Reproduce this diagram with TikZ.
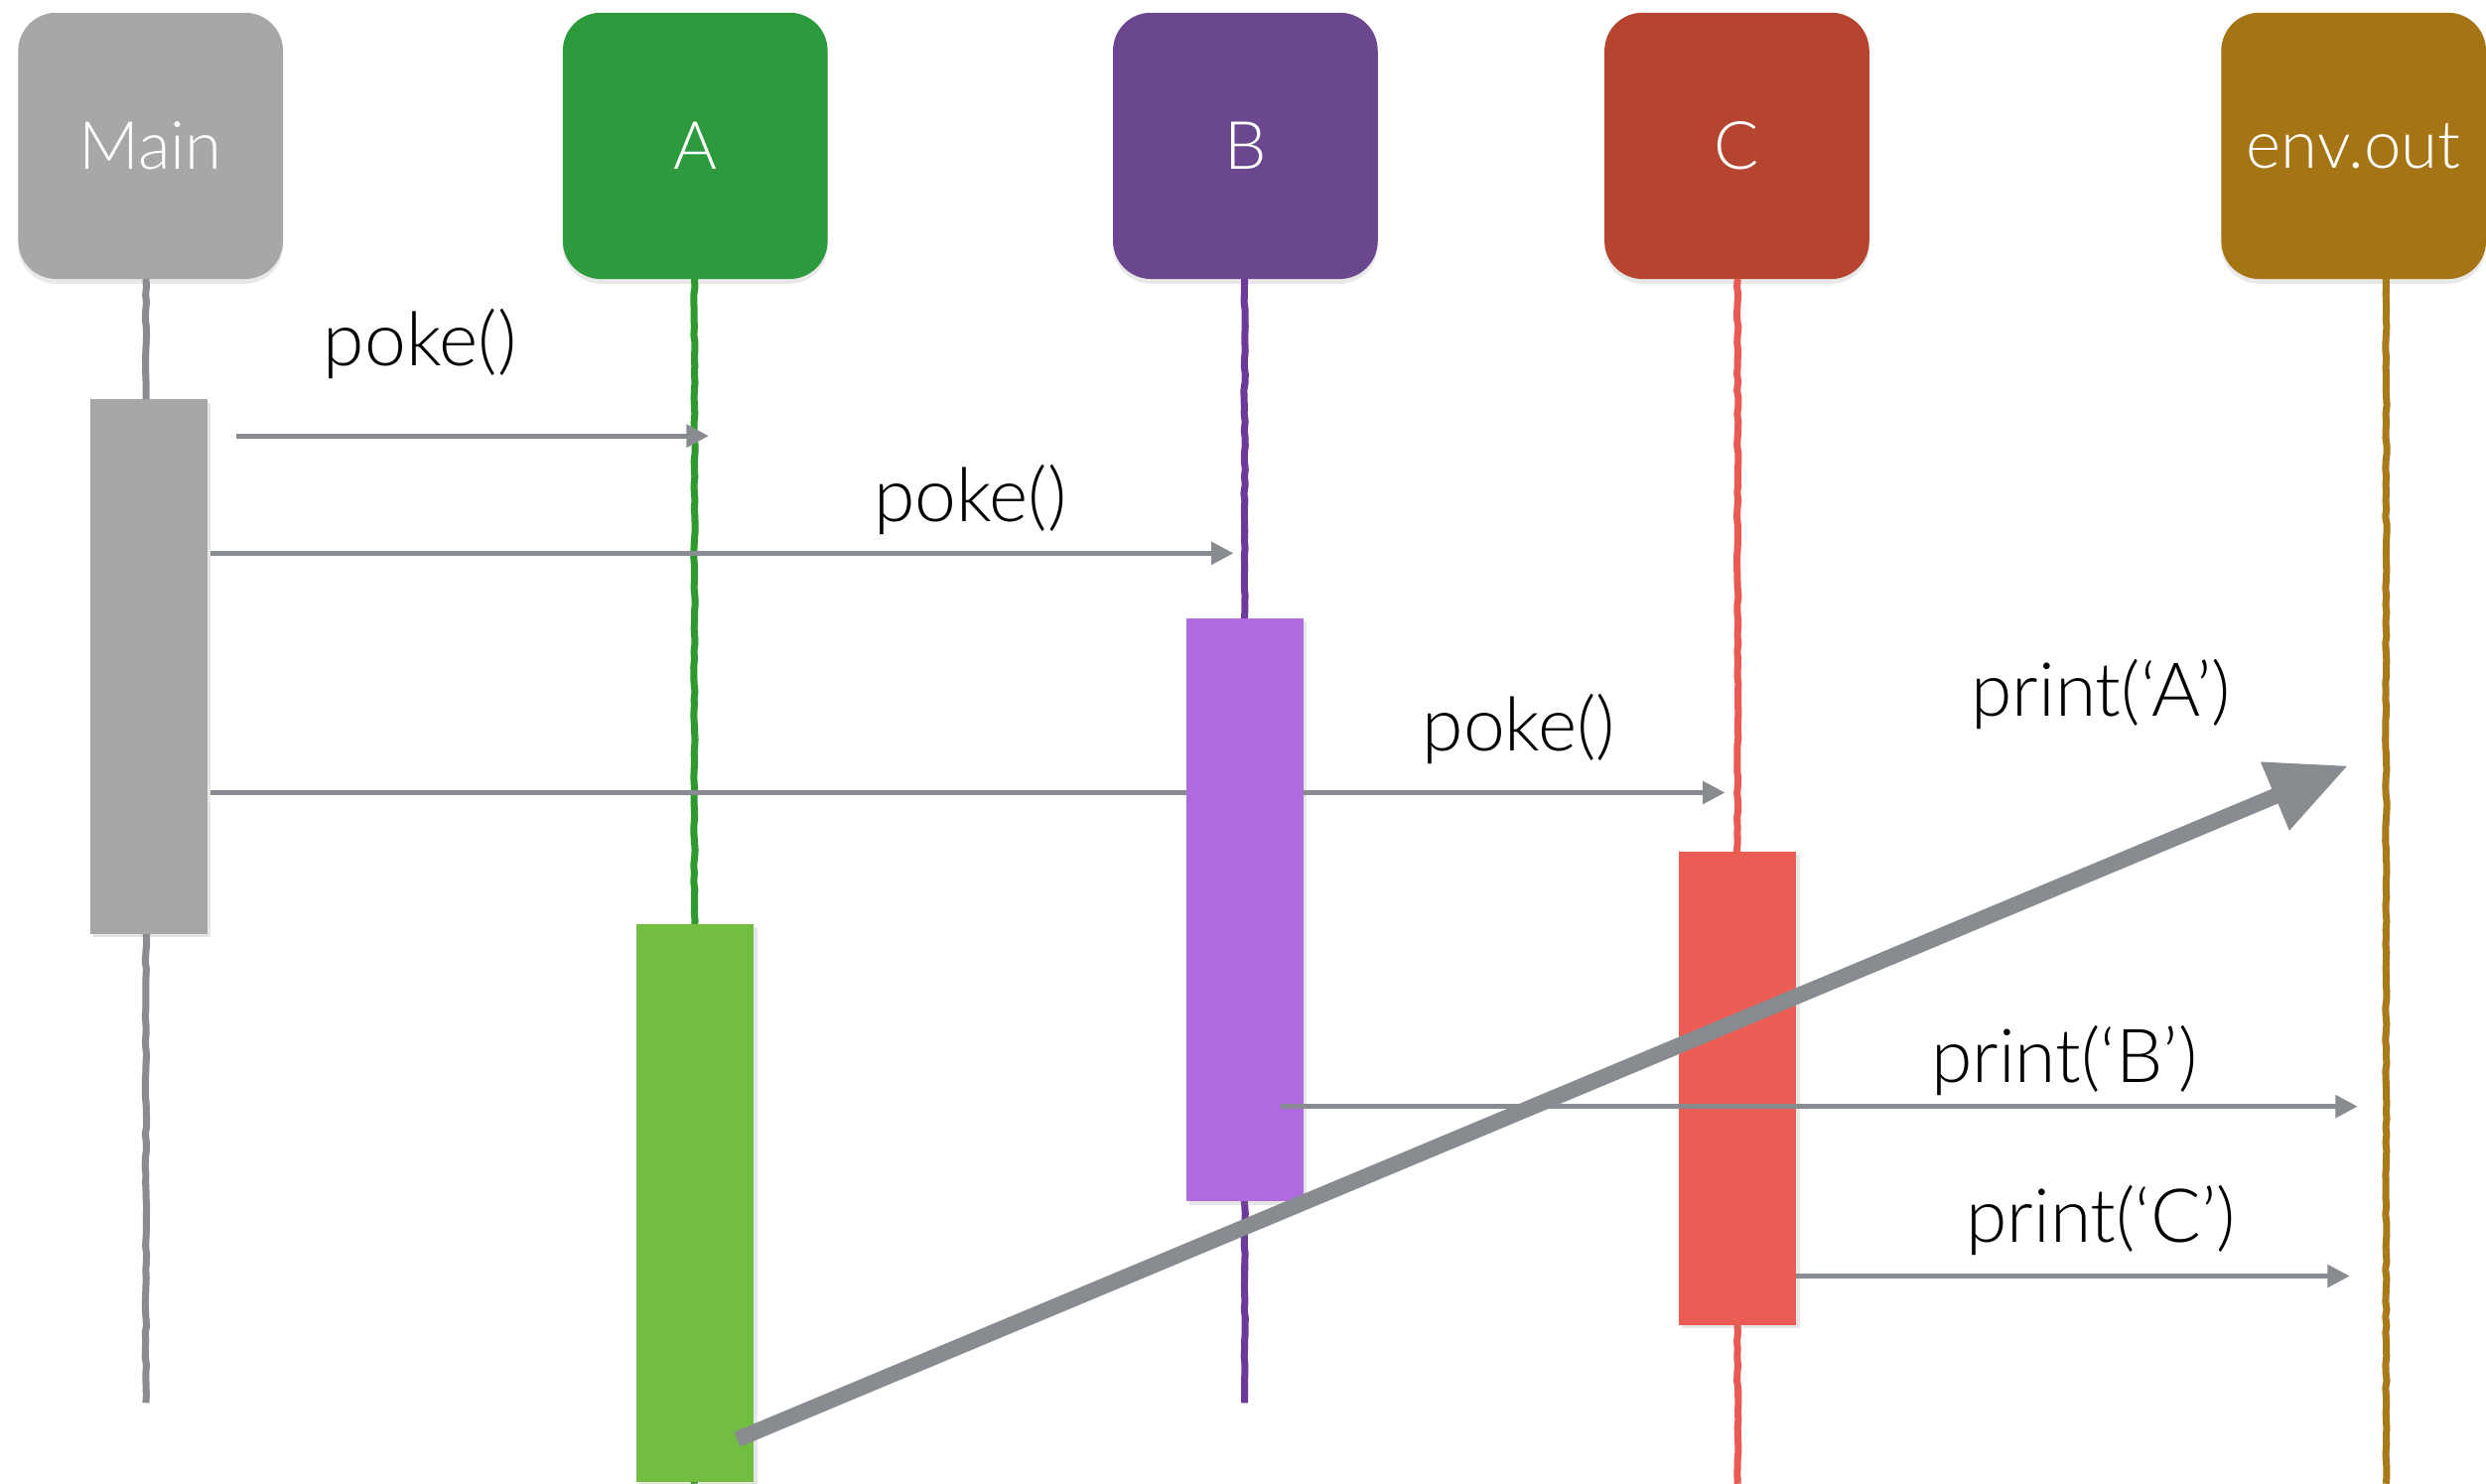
\documentclass[tikz,border=0pt]{standalone}
\usepackage{fontspec}
\setmainfont{Lato}[UprightFont=* Light]
\usetikzlibrary{arrows.meta,shadows,decorations.pathmorphing}

\definecolor{mainHead}{HTML}{A5A8A7}
\definecolor{mainLine}{HTML}{8A8C8F}
\definecolor{mainBar}{HTML}{A5A8A7}
\definecolor{aHead}{HTML}{2E9A3E}
\definecolor{aLine}{HTML}{2E9A2E}
\definecolor{aBar}{HTML}{71BE42}
\definecolor{bHead}{HTML}{6B4790}
\definecolor{bLine}{HTML}{6E3A99}
\definecolor{bBar}{HTML}{B06AE0}
\definecolor{cHead}{HTML}{B54430}
\definecolor{cLine}{HTML}{EA5A54}
\definecolor{cBar}{HTML}{EB5C55}
\definecolor{envHead}{HTML}{A57515}
\definecolor{envLine}{HTML}{A87A1A}
\definecolor{msg}{HTML}{888B8F}

\tikzset{
  head/.style={rounded corners=24pt, minimum width=167pt, minimum height=168pt,
    inner sep=0pt, outer sep=0pt, text=white,
    font=\fontsize{42}{50}\selectfont,
    drop shadow={shadow xshift=0pt, shadow yshift=-3pt, opacity=0.18}},
  lifeline/.style={line width=4.4pt, line join=round,
    decorate, decoration={random steps, segment length=5pt, amplitude=0.45pt}},
  actbar/.style={minimum width=74pt, inner sep=0pt, outer sep=0pt,
    drop shadow={shadow xshift=2pt, shadow yshift=-2pt, opacity=0.2}},
  call/.style={draw=msg, line width=3pt, -{Triangle[length=14pt,width=14pt]}},
  bigcall/.style={draw=msg, line width=10pt, -{Triangle[length=50pt,width=44pt]}},
  msglabel/.style={font=\fontsize{47}{56}\selectfont, inner sep=0pt}
}

\begin{document}
\begin{tikzpicture}[x=1pt, y=-1pt]
\useasboundingbox (0,0) rectangle (1568,936);

% participants
\node[head, fill=mainHead] (hMain) at (95,92)     {Main};
\node[head, fill=aHead]    (hA)    at (438.5,92)  {A};
\node[head, fill=bHead]    (hB)    at (785.5,92)  {B};
\node[head, fill=cHead]    (hC)    at (1095.5,92) {C};
\node[head, fill=envHead]  (hEnv)  at (1484.5,92) {env.out};

% lifeline ends
\coordinate (mainEnd) at (92,885);
\coordinate (aEnd)    at (438,936);
\coordinate (bEnd)    at (785,885);
\coordinate (cEnd)    at (1096,936);
\coordinate (envEnd)  at (1505,936);

\draw[lifeline, mainLine] (hMain.south -| mainEnd) -- (mainEnd);
\draw[lifeline, aLine]    (hA.south -| aEnd) -- (aEnd);
\draw[lifeline, bLine]    (hB.south -| bEnd) -- (bEnd);
\draw[lifeline, cLine]    (hC.south -| cEnd) -- (cEnd);
\draw[lifeline, envLine]  (hEnv.south -| envEnd) -- (envEnd);

% message endpoints
\coordinate (m1s) at (149,275);  \coordinate (m1e) at (447,275);
\coordinate (m2s) at (133,349);  \coordinate (m2e) at (778,349);
\coordinate (m3s) at (133,500);  \coordinate (m3e) at (1088,500);
\coordinate (pAs) at (465,908);  \coordinate (pAe) at (1481,483);
\coordinate (pBs) at (808,698);  \coordinate (pBe) at (1487,698);
\coordinate (pCs) at (1133,805); \coordinate (pCe) at (1482,805);

% call into C passes behind B's activation
\draw[call] (m3s) -- (m3e);

% activations
\node[actbar, fill=mainBar, minimum height=337pt] (actMain) at (94,420.5) {};
\node[actbar, fill=aBar,    minimum height=352pt] (actA)    at (438.5,759) {};
\node[actbar, fill=bBar,    minimum height=368pt] (actB)    at (785,574) {};
\node[actbar, fill=cBar,    minimum height=299pt] (actC)    at (1096,686.5) {};

% calls
\draw[call] (m1s) -- (m1e);
\draw[call] (m2s) -- (m2e);
\draw[call] (pBs) -- (pBe);
\draw[call] (pCs) -- (pCe);
\draw[bigcall] (pAs) -- (pAe);

% labels
\node[msglabel] (l1) at (265,217) {poke()};
\node[msglabel] (l2) at (612,315) {poke()};
\node[msglabel] (l3) at (958,460) {poke()};
\node[msglabel] (lA) at (1325,438) {print(‘A’)};
\node[msglabel] (lB) at (1302,669) {print(‘B’)};
\node[msglabel] (lC) at (1325,770) {print(‘C’)};
\end{tikzpicture}
\end{document}
